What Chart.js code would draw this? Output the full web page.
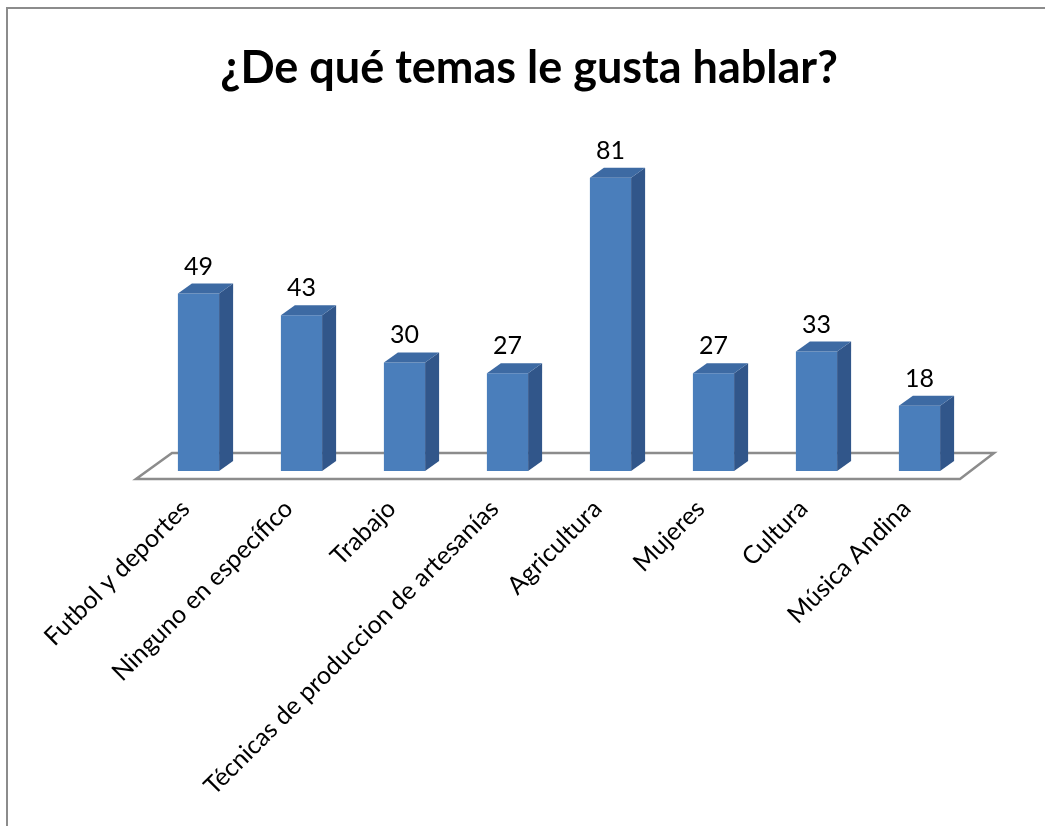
<!DOCTYPE html>
<html>
<head>
<meta charset="utf-8">
<script src="https://cdn.jsdelivr.net/npm/chart.js@4"></script>
<style>
  html, body { margin: 0; padding: 0; background: #fff; }
  #wrap { width: 1045px; height: 826px; }
</style>
</head>
<body>
<div id="wrap"><canvas id="temasChart" width="1045" height="826"></canvas></div>
<script>
// Topics and number of answers
const temas = [
    'Futbol y deportes',
    'Ninguno en específico',
    'Trabajo',
    'Técnicas de produccion de artesanías',
    'Agricultura',
    'Mujeres',
    'Cultura',
    'Música Andina'
];
const respuestas = [49, 43, 30, 27, 81, 27, 33, 18];
const titulo = '¿De qué temas le gusta hablar?';

// Colors for the three visible faces of each bar
const frontColor = '#4a7ebb';
const sideColor = '#31568a';
const topColor = '#3d6aa3';
const depthX = 14, depthY = 10;

// Draws the frame, the title, the floor, the bar sides/tops and the value labels
const bars3d = {
    id: 'bars3d',
    beforeDraw(chart) {
        const ctx = chart.ctx;
        ctx.save();
        ctx.fillStyle = '#ffffff';
        ctx.fillRect(0, 0, chart.width, chart.height);
        ctx.strokeStyle = '#8c8c8c';
        ctx.lineWidth = 2;
        ctx.strokeRect(7, 8, chart.width + 10, chart.height + 10);
        // title, centred on the whole frame
        ctx.fillStyle = '#000000';
        ctx.font = 'bold 45px Lato';
        ctx.textAlign = 'center';
        ctx.textBaseline = 'middle';
        ctx.fillText(titulo, 529, 68);
        ctx.restore();
    },
    beforeDatasetsDraw(chart) {
        const ctx = chart.ctx;
        const area = chart.chartArea;
        const base = chart.scales.y.getPixelForValue(0);
        ctx.save();
        ctx.beginPath();
        ctx.moveTo(area.left - 11, base + 8);
        ctx.lineTo(area.right - 11, base + 8);
        ctx.lineTo(area.right + 23, base - 18);
        ctx.lineTo(area.left + 25, base - 18);
        ctx.closePath();
        ctx.fillStyle = '#ffffff';
        ctx.fill();
        ctx.strokeStyle = '#8c8c8c';
        ctx.lineWidth = 2.5;
        ctx.stroke();
        ctx.restore();
    },
    afterDatasetsDraw(chart) {
        const ctx = chart.ctx;
        const meta = chart.getDatasetMeta(0);
        ctx.save();
        meta.data.forEach((bar, i) => {
            const p = bar.getProps(['x', 'y', 'base', 'width'], true);
            const l = p.x - p.width / 2, r = p.x + p.width / 2;
            // right side
            ctx.beginPath();
            ctx.moveTo(r, p.y);
            ctx.lineTo(r + depthX, p.y - depthY);
            ctx.lineTo(r + depthX, p.base - depthY);
            ctx.lineTo(r, p.base);
            ctx.closePath();
            ctx.fillStyle = sideColor;
            ctx.fill();
            // top
            ctx.beginPath();
            ctx.moveTo(l, p.y);
            ctx.lineTo(l + depthX, p.y - depthY);
            ctx.lineTo(r + depthX, p.y - depthY);
            ctx.lineTo(r, p.y);
            ctx.closePath();
            ctx.fillStyle = topColor;
            ctx.fill();
            // value label
            ctx.fillStyle = '#000000';
            ctx.font = '25px Lato';
            ctx.textAlign = 'center';
            ctx.textBaseline = 'middle';
            ctx.fillText(String(respuestas[i]), p.x, p.y - 27);
        });
        ctx.restore();
    }
};

const ctx = document.getElementById('temasChart').getContext('2d');

const temasChart = new Chart(ctx, {
    type: 'bar',
    data: {
        labels: temas,
        datasets: [{
            data: respuestas,
            backgroundColor: frontColor,
            borderWidth: 0,
            categoryPercentage: 1,
            barPercentage: 0.4
        }]
    },
    options: {
        responsive: false,
        animation: false,
        layout: {
            padding: { left: 147, right: 74, top: 109, bottom: 0 }
        },
        plugins: {
            legend: { display: false },
            tooltip: { enabled: false },
            title: { display: false }
        },
        scales: {
            x: {
                grid: { display: false, drawTicks: false },
                border: { display: false },
                ticks: {
                    color: '#000000',
                    font: { family: 'Lato', size: 25 },
                    minRotation: 45,
                    maxRotation: 45,
                    autoSkip: false,
                    padding: 23,
                    labelOffset: -13
                },
                afterFit(scale) {
                    scale.height = 355;
                }
            },
            y: {
                display: false,
                min: 0,
                max: 100
            }
        }
    },
    plugins: [bars3d]
});
</script>
</body>
</html>
